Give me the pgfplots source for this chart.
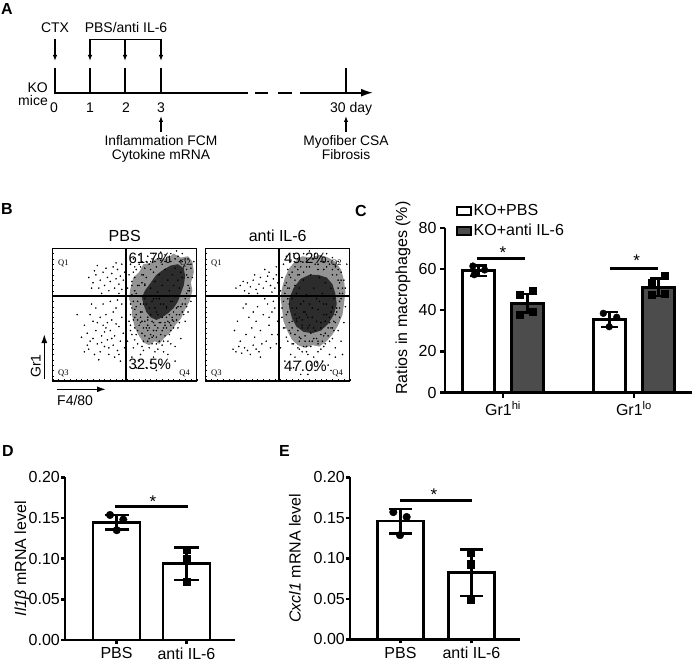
\documentclass[border=0pt]{standalone}
\usepackage{fontspec}
\setmainfont{Liberation Sans}
\newfontfamily\qfont{Liberation Serif}
\usepackage{pgfplots}
\pgfplotsset{compat=1.18}
\usetikzlibrary{arrows.meta}
\newcommand{\fs}[1]{\fontsize{#1}{#1}\selectfont}
\pgfplotsset{
 flowbox/.style={at={(#1)}, anchor=south west, scale only axis, width=144pt, height=132.7pt,
   xmin=0,xmax=100,ymin=0,ymax=100, axis line style={line width=1.3pt},
   xtick={0,4,...,100}, ytick={0,4,...,100}, xticklabels={}, yticklabels={},
   tick align=inside, major tick length=1.6pt, xtick pos=bottom, ytick pos=left,
   tick style={line width=0.35pt, black}},
 barax/.style={anchor=south west, scale only axis, clip=false,
   axis x line*=bottom, axis y line*=left, axis line style={line width=2.8pt,-},
   tick align=outside, major tick length=5pt, tick style={line width=2.4pt, black},
   ticklabel style={font=\fs{16}}, /pgf/number format/assume math mode=true,
   scaled y ticks=false},
 sigline/.style={draw=black, line width=#1, mark=none, forget plot},
 sigline/.default=2.6pt,
 wbar/.style={ybar, bar shift=0pt, fill=white, draw=black, line width=2.6pt,
   error bars/.cd, y dir=both, y explicit, error bar style={line width=2.4pt},
   error mark options={rotate=90, line width=2.4pt, mark size=#1}},
 dbar/.style={ybar, bar shift=0pt, fill=black!70, draw=black, line width=2.6pt,
   error bars/.cd, y dir=both, y explicit, error bar style={line width=2.4pt},
   error mark options={rotate=90, line width=2.4pt, mark size=#1}},
}
\begin{document}
\begin{tikzpicture}[x=1pt,y=1pt]
\path[use as bounding box] (0,0) rectangle (693,665);
% ---------------- Panel A ----------------
\node[font=\bfseries\fs{16}, anchor=base west, inner sep=0] at (1,650) {A};
\begin{scope}[line width=1.8pt]
\draw (55,572.3) -- (248,572.3);
\draw (255,572.3) -- (268,572.3);
\draw (278,572.3) -- (292,572.3);
\draw[-{Latex[length=12pt,width=8pt]}] (300,572.3) -- (373,572.3);
\foreach \x in {55,90,125,161,346} \draw (\x,571.4) -- (\x,597);
\end{scope}
\begin{scope}[line width=1.5pt]
\draw[-{Latex[length=6pt,width=4.5pt]}] (55,626) -- (55,604);
\draw (89.3,625.7) -- (161.7,625.7);
\foreach \x in {90,125,161} \draw[-{Latex[length=6pt,width=4.5pt]}] (\x,626.4) -- (\x,604);
\draw[-{Latex[length=6pt,width=4.5pt]}] (161,533) -- (161,549);
\draw[-{Latex[length=6pt,width=4.5pt]}] (346,533) -- (346,549);
\end{scope}
\begin{scope}[every node/.style={font=\fs{14}, inner sep=0}]
\node[anchor=base] at (55,632) {CTX};
\node[anchor=base] at (126,632) {PBS/anti IL-6};
\node[anchor=base east] at (48,572) {KO};
\node[anchor=base east] at (48,559) {mice};
\node[anchor=base] at (54,552) {0};
\node[anchor=base] at (90,552) {1};
\node[anchor=base] at (126,552) {2};
\node[anchor=base] at (161,552) {3};
\node[anchor=base west] at (330,552) {30 day};
\end{scope}
\begin{scope}[every node/.style={font=\fs{13.8}, inner sep=0}]
\node[anchor=base] at (161,519) {Inflammation FCM};
\node[anchor=base] at (161,505.5) {Cytokine mRNA};
\node[anchor=base] at (346,519) {Myofiber CSA};
\node[anchor=base] at (346,505.5) {Fibrosis};
\end{scope}
% ---------------- Panel B ----------------
\node[font=\bfseries\fs{16}, anchor=base west, inner sep=0] at (1,450) {B};
\node[font=\fs{16}, anchor=base, inner sep=0] at (124.7,423.3) {PBS};
\node[font=\fs{16}, anchor=base, inner sep=0] at (277.7,423.3) {anti IL-6};
\draw[line width=1.5pt, -{Latex[length=9pt,width=6pt]}] (44.3,286) -- (44.3,331);
\node[font=\fs{14}, rotate=90, anchor=base, inner sep=0] at (40.5,299) {Gr1};
\draw[line width=1.5pt, -{Latex[length=9pt,width=6pt]}] (57,275.7) -- (106,275.7);
\node[font=\fs{14}, anchor=base west, inner sep=0] at (57,260) {F4/80};

\begin{axis}[flowbox={52.7pt,284pt}]
\addplot[fill=black, fill opacity=0.42, draw=none] coordinates {(55,50) (57,40) (60,34) (63,29) (67,27) (71,30) (74,28) (78,33) (82,37) (85,42) (89,47) (92,54) (95,60) (97,68) (96,74) (98,82) (97,90) (94,94) (89,93) (84,96) (79,92) (73,93) (68,89) (63,88) (60,82) (56,78) (54,70) (53,62) (55,56) (55,50)};
\addplot[fill=black, fill opacity=0.7, draw=none] coordinates {(63,58) (65,52) (68,48) (72,46) (76,48) (80,51) (84,55) (87,60) (89,66) (91,72) (92,79) (91,85) (87,88) (82,87) (77,84) (72,80) (68,74) (64,68) (62,63) (63,58)};
\addplot[only marks, mark=*, mark size=0.55pt, black] coordinates {
(25,78) (28,74) (30,80) (33,76) (35,82) (36,72) (38,78) (40,75) (41,81) (43,70) (44,77) (45,84) (46,73) (47,79) (48,69) (49,76) (32,70) (39,68) (42,86) (37,85) (27,70) (34,66) (46,66) (29,83) (44,89) (48,88) (50,82) (31,87)
(17,50) (22,42) (24,36) (26,30) (25,24) (28,45) (30,38) (31,28) (33,22) (34,34) (35,42) (36,26) (37,50) (38,31) (39,20) (40,38) (41,46) (42,27) (43,34) (44,55) (45,23) (46,41) (47,30) (48,48) (49,36) (50,25) (30,55) (27,58) (35,58) (40,60) (45,61) (33,48) (38,44) (43,18) (29,20) (24,27) (32,16) (47,15) (36,37) (42,52) (48,58) (20,33) (26,50) (44,43) (39,25) (34,29) (22,22) (28,32) (31,44) (46,20) (41,32) (37,40)
(52,30) (53,45) (54,38) (55,55) (56,25) (57,48) (58,35) (59,60) (60,42) (61,20) (62,52) (63,30) (64,45) (65,58) (66,38) (67,25) (68,50) (69,33) (70,44) (71,55) (72,28) (73,40) (74,62) (75,35) (76,48) (77,22) (78,42) (79,56) (80,30) (81,50) (82,38) (83,60) (84,45) (85,26) (86,55) (87,40) (88,50) (89,32) (90,58) (92,45) (94,52) (60,15) (70,18) (75,12) (80,20) (65,10) (85,15) (72,8) (58,10) (68,14) (62,36) (66,46) (70,38) (74,30) (78,34) (57,40) (61,58) (69,60) (73,50) (77,58) (81,44) (59,28) (63,23) (67,32) (71,22) (76,27) (82,28) (55,18) (54,50) (64,62) (72,62) (79,64)
(52,70) (53,80) (54,88) (55,75) (56,92) (57,68) (58,84) (60,95) (62,90) (64,73) (66,94) (68,90) (70,96) (73,92) (75,97) (78,95) (82,96) (86,98) (90,96) (94,92) (96,85) (97,78) (95,70) (93,66) (55,65) (57,78) (59,72) (61,86) (63,80) (56,82) (98,90) (89,91)
(63,58) (65,64) (67,55) (68,70) (70,62) (71,75) (72,52) (73,67) (74,80) (75,58) (76,72) (77,64) (78,84) (79,55) (80,76) (81,68) (82,60) (83,80) (84,72) (85,85) (86,64) (87,76) (88,70) (89,82) (90,78) (66,48) (69,45) (74,44) (79,48) (84,52) (61,52) (64,72) (70,82) (76,88) (82,90) (88,90) (91,86) (93,80) (62,45) (58,50)
(56,60) (58,66) (60,72) (62,80) (64,85) (67,88) (71,90) (94,72) (95,64) (92,58) (90,52) (86,46) (82,42) (77,40) (72,38) (67,40) (63,40) (59,46) (57,54)
(54,42) (55,35) (57,31) (59,38) (61,44) (62,26) (64,34) (65,40) (66,30) (68,35) (69,28) (71,42) (72,33) (73,24) (75,44) (76,38) (77,30) (79,40) (80,45) (81,35) (83,48) (84,40) (86,50) (88,44) (89,56) (91,50) (92,62) (93,56) (95,68) (96,60) (94,78) (96,88) (92,92) (87,94) (81,94) (75,91) (69,92) (65,90) (60,88) (57,86) (55,72) (54,58) (56,46) (58,56) (60,64) (62,74) (65,78) (68,84) (72,86) (78,90) (85,92) (90,90) (93,84) (94,68) (87,56) (83,46) (78,44) (70,34) (66,42) (61,48)};
\addplot[line width=1.3pt] coordinates {(50.9,0) (50.9,100)};
\addplot[line width=1.3pt] coordinates {(0,64) (100,64)};
\node[font=\fs{15}, anchor=base west, inner sep=0] at (axis cs:52.5,88.7) {61.7\%};
\node[font=\fs{15}, anchor=base west, inner sep=0] at (axis cs:52.5,8.3) {32.5\%};
\node[font=\qfont\fs{8.5}, anchor=base west, inner sep=0] at (axis cs:3.7,87.4) {Q1};
\node[font=\qfont\fs{8.5}, anchor=base west, inner sep=0] at (axis cs:88.4,87.4) {Q2};
\node[font=\qfont\fs{8.5}, anchor=base west, inner sep=0] at (axis cs:3.7,4) {Q3};
\node[font=\qfont\fs{8.5}, anchor=base west, inner sep=0] at (axis cs:87.9,4.5) {Q4};
\end{axis}

\begin{axis}[flowbox={205.7pt,284pt}]
\addplot[fill=black, fill opacity=0.42, draw=none] coordinates {(53,55) (54,45) (57,37) (60,31) (64,27) (69,25) (74,27) (79,26) (84,30) (88,35) (92,42) (95,50) (96,58) (97,67) (96,76) (94,84) (90,90) (85,93) (79,95) (73,93) (67,94) (62,90) (58,85) (55,78) (53,70) (52,62) (53,55)};
\addplot[fill=black, fill opacity=0.7, draw=none] coordinates {(58,55) (60,47) (63,41) (68,37) (74,36) (80,38) (85,43) (89,50) (91,58) (90,66) (88,73) (84,78) (78,80) (72,80) (66,77) (61,70) (58,62) (58,55)};
\addplot[only marks, mark=*, mark size=0.55pt, black] coordinates {
(21,70) (24,72) (27,68) (29,74) (31,71) (33,76) (35,69) (37,73) (38,78) (40,70) (42,75) (43,79) (45,72) (46,67) (47,77) (48,70) (49,80) (50,74) (36,66) (44,82) (30,66) (26,75) (41,84) (49,86) (34,80)
(19,24) (21,22) (23,26) (25,21) (27,25) (29,23) (31,20) (33,27) (35,24) (37,22) (24,30) (28,35) (32,40) (30,48) (26,55) (35,45) (38,38) (40,50) (42,30) (44,42) (46,35) (48,55) (50,45) (45,25) (39,28) (43,58) (47,60) (36,56) (41,62) (49,28) (34,33) (22,45) (28,58) (44,48) (38,18) (46,52) (50,35) (33,52) (20,38)
(52,25) (54,40) (55,15) (56,50) (57,30) (58,58) (59,20) (60,45) (61,10) (62,35) (63,55) (64,25) (65,48) (66,15) (67,40) (68,60) (69,30) (70,50) (71,20) (72,42) (73,12) (74,55) (75,32) (76,8) (77,45) (78,22) (79,60) (80,35) (81,15) (82,50) (83,28) (84,58) (85,40) (86,20) (87,52) (88,32) (89,45) (90,25) (91,55) (92,38) (93,48) (94,30) (96,44) (97,56) (60,28) (65,33) (70,26) (75,18) (80,24) (85,12) (90,18) (58,38) (63,45) (68,52) (73,36) (78,30) (83,45) (88,55) (71,5) (66,5) (62,18) (95,20) (53,55) (57,62) (67,22) (77,14) (87,8)
(52,68) (53,78) (54,88) (55,72) (56,94) (57,84) (58,70) (59,90) (61,96) (62,76) (64,92) (66,86) (68,96) (70,90) (72,98) (74,92) (76,96) (78,88) (80,94) (82,90) (84,96) (86,88) (88,93) (90,86) (92,90) (94,82) (96,76) (97,70) (95,66) (93,74) (98,88) (60,82) (63,66) (65,80) (91,80)
(60,55) (62,64) (63,47) (65,70) (66,58) (67,42) (68,76) (69,52) (70,65) (71,40) (72,58) (73,80) (74,48) (75,70) (76,38) (77,62) (78,54) (79,78) (80,44) (81,66) (82,58) (83,74) (84,50) (85,64) (86,44) (87,70) (88,56) (89,62) (90,50) (64,80) (70,86) (76,88) (82,84) (88,80) (92,70) (93,60) (60,40) (66,32) (74,30) (82,34) (88,40)
(53,48) (55,40) (56,33) (58,44) (59,36) (61,28) (62,50) (64,38) (65,30) (67,46) (68,26) (69,34) (71,48) (72,30) (73,26) (75,40) (77,32) (78,28) (80,40) (81,30) (83,36) (85,34) (86,48) (87,40) (89,38) (90,44) (91,52) (93,55) (94,62) (95,70) (94,76) (92,84) (89,88) (85,90) (80,90) (75,92) (70,92) (66,90) (62,86) (58,80) (56,74) (55,66) (54,60) (57,52) (60,62) (62,72) (64,84) (68,82) (72,86) (78,84) (84,86) (88,84) (92,76) (93,66) (57,70) (59,78) (86,30) (82,26) (70,22) (65,24)};
\addplot[line width=1.3pt] coordinates {(50.9,0) (50.9,100)};
\addplot[line width=1.3pt] coordinates {(0,64) (100,64)};
\node[font=\fs{15}, anchor=base west, inner sep=0] at (axis cs:54.4,88.7) {49.2\%};
\node[font=\fs{15}, anchor=base west, inner sep=0] at (axis cs:54.4,7.5) {47.0\%};
\node[font=\qfont\fs{8.5}, anchor=base west, inner sep=0] at (axis cs:3.7,87.4) {Q1};
\node[font=\qfont\fs{8.5}, anchor=base west, inner sep=0] at (axis cs:87,87.4) {Q2};
\node[font=\qfont\fs{8.5}, anchor=base west, inner sep=0] at (axis cs:3.7,4) {Q3};
\node[font=\qfont\fs{8.5}, anchor=base west, inner sep=0] at (axis cs:87.9,4.5) {Q4};
\end{axis}

% ---------------- Panel C ----------------
\node[font=\bfseries\fs{16}, anchor=base west, inner sep=0] at (355,448.3) {C};
\begin{axis}[barax, at={(445pt,272.5pt)}, width=247pt, height=164.5pt,
  xmin=-0.443, xmax=1.443, ymin=0, ymax=80,
  xtick={0,1}, xticklabels={Gr1\textsuperscript{hi}, Gr1\textsuperscript{lo}},
  ytick={0,20,40,60,80},
  ylabel={Ratios in macrophages (\%)},
  ylabel style={font=\fs{16}, at={(axis description cs:-0.17,0.574)}, anchor=center},
  legend style={at={(axis description cs:0.0445,1.152)}, anchor=north west, draw=none, fill=none,
    font=\fs{16}, row sep=4pt, inner sep=0pt, nodes={inner sep=1.5pt}},
  legend cell align=left]
\addlegendimage{legend image code/.code={\draw[fill=white, draw=black, line width=2pt] (0pt,-4pt) rectangle (14pt,4pt);}}
\addlegendentry{KO+PBS}
\addlegendimage{legend image code/.code={\draw[fill=black!70, draw=black, line width=2pt] (0pt,-4pt) rectangle (14pt,4pt);}}
\addlegendentry{KO+anti IL-6}
\addplot[bar width=0.244, forget plot, wbar=8.5pt] coordinates {(-0.187,59.2) +- (0,2.5) (0.813,35.6) +- (0,3.6)};
\addplot[bar width=0.244, forget plot, dbar=8.5pt] coordinates {(0.187,43.4) +- (0,4.5) (1.187,51.2) +- (0,4.3)};
\addplot[only marks, mark=*, mark size=3.4pt, black, forget plot] coordinates {(-0.23,61.5) (-0.14,59.6) (-0.22,57.3) (0.766,38.5) (0.868,36.6) (0.811,32.0)};
\addplot[only marks, mark=square*, mark size=3.5pt, black, forget plot] coordinates {(0.13,47.8) (0.23,49.5) (0.13,37.7) (0.23,39.3) (1.237,56.8) (1.135,53.6) (1.135,47.4) (1.237,47.9)};
\addplot[sigline] coordinates {(-0.201,65.2) (0.168,65.2)};
\addplot[sigline] coordinates {(0.817,60.4) (1.183,60.4)};
\node[font=\fs{17}, anchor=north, inner sep=0] at (axis cs:0,70.8) {*};
\node[font=\fs{17}, anchor=north, inner sep=0] at (axis cs:1.02,66.9) {*};
\end{axis}

% ---------------- Panel D ----------------
\node[font=\bfseries\fs{16}, anchor=base west, inner sep=0] at (2,208.3) {D};
\begin{axis}[barax, at={(65pt,25pt)}, width=170pt, height=162.7pt,
  xmin=-0.736, xmax=1.693, ymin=0, ymax=0.2,
  xtick={0,1}, xticklabels={PBS, anti IL-6},
  ytick={0,0.05,0.1,0.15,0.2}, major tick length=4pt,
  yticklabel style={/pgf/number format/fixed, /pgf/number format/fixed zerofill, /pgf/number format/precision=2, inner sep=1pt},
  ylabel={\textit{Il1β} mRNA level},
  ylabel style={font=\fs{16}, at={(axis description cs:-0.253,0.5)}, anchor=center}]
\addplot[bar width=0.671, wbar=12pt] coordinates {(0,0.1447) +- (0,0.0089) (1,0.0937) +- (0,0.0201)};
\addplot[only marks, mark=*, mark size=3.8pt, black] coordinates {(-0.093,0.1537) (0.097,0.148) (0.003,0.135)};
\addplot[only marks, mark=square*, mark size=3.6pt, black] coordinates {(1.003,0.1106) (1.003,0.1004) (1.003,0.0717)};
\addplot[sigline=3.2pt] coordinates {(-0.021,0.1639) (1.021,0.1639)};
\node[font=\fs{17}, anchor=north, inner sep=0] at (axis cs:0.521,0.178) {*};
\end{axis}

% ---------------- Panel E ----------------
\node[font=\bfseries\fs{16}, anchor=base west, inner sep=0] at (279,208.3) {E};
\begin{axis}[barax, at={(350pt,25.7pt)}, width=170pt, height=162pt,
  xmin=-0.711, xmax=1.683, ymin=0, ymax=0.2,
  xtick={0,1}, xticklabels={PBS, anti IL-6},
  ytick={0,0.05,0.1,0.15,0.2}, major tick length=4pt,
  yticklabel style={/pgf/number format/fixed, /pgf/number format/fixed zerofill, /pgf/number format/precision=2, inner sep=1pt},
  ylabel={\textit{Cxcl1} mRNA level},
  ylabel style={font=\fs{16}, at={(axis description cs:-0.324,0.5)}, anchor=center}]
\addplot[bar width=0.648, wbar=11.5pt] coordinates {(0,0.1459) +- (0,0.0152) (1,0.0824) +- (0,0.0286)};
\addplot[only marks, mark=*, mark size=3.8pt, black] coordinates {(-0.101,0.157) (0.087,0.151) (-0.007,0.1286)};
\addplot[only marks, mark=square*, mark size=3.6pt, black] coordinates {(0.993,0.1068) (0.993,0.0928) (0.993,0.0493)};
\addplot[sigline=3.2pt] coordinates {(-0.007,0.1718) (1.007,0.1718)};
\node[font=\fs{17}, anchor=north, inner sep=0] at (axis cs:0.472,0.1864) {*};
\end{axis}
\end{tikzpicture}
\end{document}
